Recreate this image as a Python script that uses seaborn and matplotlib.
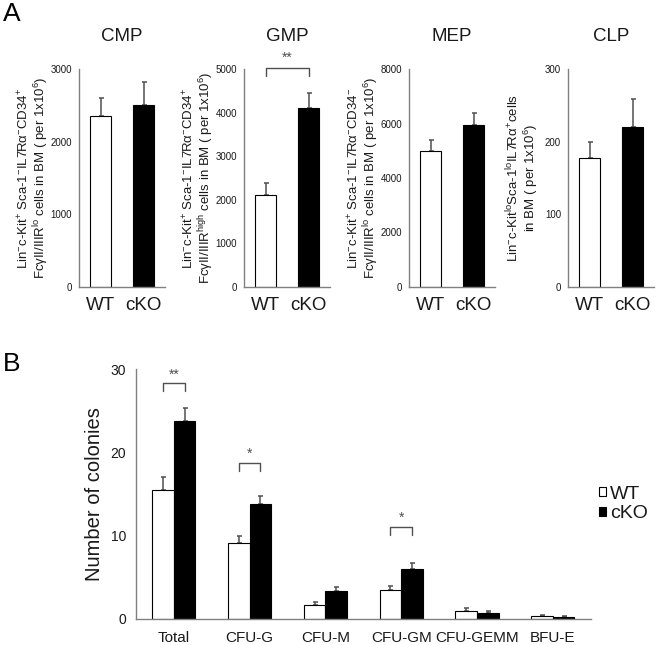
import numpy as np
import pandas as pd
import matplotlib
matplotlib.use("Agg")
import matplotlib.pyplot as plt
import seaborn as sns

# ---------------- data ----------------
genotypes = ["WT", "cKO"]
bar_colors = ["white", "black"]

panelA_titles = ["CMP", "GMP", "MEP", "CLP"]
cmp_mean = [2350, 2500]
cmp_err = [250, 320]
gmp_mean = [2120, 4100]
gmp_err = [270, 350]
mep_mean = [5000, 5930]
mep_err = [380, 450]
clp_mean = [178, 220]
clp_err = [21, 39]
panelA_ymax = [3000, 5000, 8000, 300]
panelA_yticks = [[0, 1000, 2000, 3000],
                 [0, 1000, 2000, 3000, 4000, 5000],
                 [0, 2000, 4000, 6000, 8000],
                 [0, 100, 200, 300]]
panelA_ylabels = [
    "Lin$^{-}$c-Kit$^{+}$ Sca-1$^{-}$IL7R\u03b1$^{-}$CD34$^{+}$\nFc\u03b3II/IIIR$^{lo}$ cells in BM ( per 1x10$^{6}$)",
    "Lin$^{-}$c-Kit$^{+}$ Sca-1$^{-}$IL7R\u03b1$^{-}$CD34$^{+}$\nFc\u03b3II/IIIR$^{high}$ cells in BM ( per 1x10$^{6}$)",
    "Lin$^{-}$c-Kit$^{+}$ Sca-1$^{-}$IL7R\u03b1$^{-}$CD34$^{-}$\nFc\u03b3II/IIIR$^{lo}$ cells in BM ( per 1x10$^{6}$)",
    "Lin$^{-}$c-Kit$^{lo}$Sca-1$^{lo}$IL7R\u03b1$^{+}$cells\nin BM ( per 1x10$^{6}$)",
]
gmp_sig = "**"
gmp_bracket = [5030, 4840]  # top, leg end

colony_types = ["Total", "CFU-G", "CFU-M", "CFU-GM", "CFU-GEMM", "BFU-E"]
wt_mean = [15.45, 9.07, 1.68, 3.41, 0.96, 0.36]
wt_err = [1.55, 0.92, 0.37, 0.48, 0.32, 0.08]
ko_mean = [23.8, 13.76, 3.29, 5.94, 0.72, 0.20]
ko_err = [1.5, 1.0, 0.56, 0.72, 0.16, 0.08]
sig_groups = [0, 1, 3]
sig_labels = ["**", "*", "*"]
sig_bracket_top = [28.3, 18.7, 11.07]
sig_leg = 0.95

# ---------------- style ----------------
sns.set_theme(style="white")
plt.rcParams["font.family"] = ["Liberation Sans", "DejaVu Sans"]
plt.rcParams["mathtext.default"] = "regular"
plt.rcParams["mathtext.fontset"] = "custom"
plt.rcParams["mathtext.rm"] = "Liberation Sans"

SPINE = "#808080"
ERR = "#505050"
TXT = "#1a1a1a"

W, H = 662, 645
fig = plt.figure(figsize=(W / 100, H / 100), dpi=100)


def rect(l, t, r, b):
    return [l / W, 1 - b / H, (r - l) / W, (b - t) / H]


def style_axes(ax):
    sns.despine(ax=ax)
    for s in ("left", "bottom"):
        ax.spines[s].set_color(SPINE)
        ax.spines[s].set_linewidth(1.0)
    ax.tick_params(axis="both", which="major", direction="out", color=SPINE,
                   width=0.9, labelcolor=TXT)


# ---------------- panel A ----------------
A_lefts = [79, 244, 409, 568]
means = [cmp_mean, gmp_mean, mep_mean, clp_mean]
errs = [cmp_err, gmp_err, mep_err, clp_err]
label_x = [-0.33, -0.33, -0.33, -0.33]

for i in range(4):
    ax = fig.add_axes(rect(A_lefts[i], 69, A_lefts[i] + 86, 287))
    df = pd.DataFrame({"genotype": genotypes, "value": means[i]})
    sns.barplot(data=df, x="genotype", y="value", hue="genotype",
                palette=bar_colors, edgecolor="black", linewidth=0.8,
                width=0.5, legend=False, errorbar=None, ax=ax)
    centers = [p.get_x() + p.get_width() / 2 for p in ax.patches]
    heights = [p.get_height() for p in ax.patches]
    ax.errorbar(centers, heights, yerr=[np.zeros(len(errs[i])), errs[i]],
                fmt="none", ecolor=ERR, elinewidth=1.1, capsize=1.8,
                capthick=1.1, zorder=0)
    ax.set_ylim(0, panelA_ymax[i])
    ax.set_xlim(-0.5, 1.5)
    ax.set_yticks(panelA_yticks[i])
    ax.set_yticklabels([str(v) for v in panelA_yticks[i]])
    ax.tick_params(axis="y", labelsize=7, length=3, pad=2)
    ax.set_xticks([-0.5, 0.5, 1.5])
    ax.set_xticklabels([])
    ax.tick_params(axis="x", which="major", length=4)
    ax.set_xticks([0, 1], minor=True)
    ax.set_xticklabels(genotypes, minor=True)
    ax.tick_params(axis="x", which="minor", length=0, labelsize=13.5, pad=7,
                   labelcolor=TXT)
    ax.set_xlabel("")
    ax.set_ylabel(panelA_ylabels[i], fontsize=9.5, color=TXT, linespacing=1.0)
    ax.yaxis.set_label_coords(label_x[i], 0.5)
    ax.set_title(panelA_titles[i], fontsize=13.5, color=TXT, pad=20)
    style_axes(ax)
    if i == 1:
        x0, x1 = centers
        top, leg = gmp_bracket
        ax.plot([x0, x0, x1, x1], [leg, top, top, leg], color=ERR, lw=1.0,
                clip_on=False)
        ax.text((x0 + x1) / 2, top + 60, gmp_sig, ha="center", va="bottom",
                fontsize=10, color=ERR, clip_on=False)

fig.text(3 / W, 1 - 2 / H, "A", fontsize=19, ha="left", va="top", color="black")
fig.text(3 / W, 1 - 352 / H, "B", fontsize=19, ha="left", va="top", color="black")

# ---------------- panel B ----------------
axb = fig.add_axes(rect(136, 369.3, 590.7, 618.7))
dfb = pd.DataFrame({
    "colony": colony_types * 2,
    "genotype": ["WT"] * len(colony_types) + ["cKO"] * len(colony_types),
    "value": wt_mean + ko_mean,
})
sns.barplot(data=dfb, x="colony", y="value", hue="genotype",
            order=colony_types, hue_order=genotypes, palette=bar_colors,
            edgecolor="black", linewidth=0.8, width=0.57, errorbar=None,
            ax=axb)
patches = axb.patches[: 2 * len(colony_types)]
wt_p = patches[: len(colony_types)]
ko_p = patches[len(colony_types):]
for ps, e in ((wt_p, wt_err), (ko_p, ko_err)):
    cx = [p.get_x() + p.get_width() / 2 for p in ps]
    hy = [p.get_height() for p in ps]
    axb.errorbar(cx, hy, yerr=[np.zeros(len(e)), e], fmt="none", ecolor=ERR,
                 elinewidth=1.1, capsize=1.8, capthick=1.1, zorder=0)

for g, lab, top in zip(sig_groups, sig_labels, sig_bracket_top):
    x0 = wt_p[g].get_x() + wt_p[g].get_width() / 2
    x1 = ko_p[g].get_x() + ko_p[g].get_width() / 2
    axb.plot([x0, x0, x1, x1], [top - sig_leg, top, top, top - sig_leg],
             color=ERR, lw=1.0)
    axb.text((x0 + x1) / 2, top + 0.25, lab, ha="center", va="bottom",
             fontsize=10, color=ERR)

axb.set_ylim(0, 30)
axb.set_xlim(-0.5, len(colony_types) - 0.5)
axb.set_yticks([0, 10, 20, 30])
axb.set_yticklabels(["0", "10", "20", "30"])
axb.tick_params(axis="y", labelsize=10, length=4, pad=3)
axb.set_xticks(np.arange(len(colony_types) + 1) - 0.5)
axb.set_xticklabels([])
axb.tick_params(axis="x", which="major", length=5)
axb.set_xticks(np.arange(len(colony_types)), minor=True)
axb.set_xticklabels(colony_types, minor=True)
axb.tick_params(axis="x", which="minor", length=0, labelsize=11, pad=9,
                labelcolor=TXT)
axb.set_xlabel("")
axb.set_ylabel("Number of colonies", fontsize=14.5, color=TXT)
axb.yaxis.set_label_coords(-0.07, 0.5)
style_axes(axb)

leg = axb.legend(loc="center left", bbox_to_anchor=(599 / W, 1 - 504 / H),
                 bbox_transform=fig.transFigure, frameon=False, fontsize=14,
                 handlelength=0.35, handleheight=0.35, handletextpad=0.2,
                 labelspacing=0.15, borderpad=0, borderaxespad=0)
for h in leg.legend_handles:
    h.set_edgecolor("black")
    h.set_linewidth(0.8)
for t in leg.get_texts():
    t.set_color(TXT)

fig.savefig("out.png", dpi=100, facecolor="white")
